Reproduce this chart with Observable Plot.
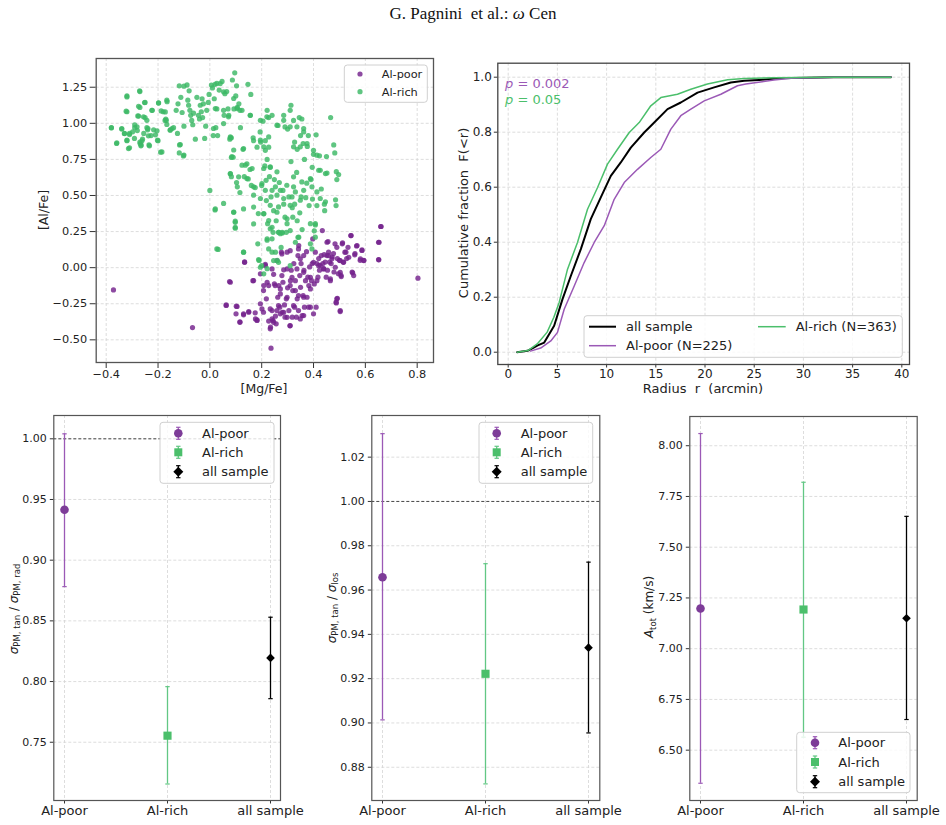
<!DOCTYPE html>
<html><head><meta charset="utf-8">
<script src="https://cdn.jsdelivr.net/npm/d3@7"></script>
<script src="https://cdn.jsdelivr.net/npm/@observablehq/plot@0.6"></script>
<style>
body{margin:0;background:#fff;}
#fig{position:relative;width:946px;height:825px;font-family:"DejaVu Sans",sans-serif;}
#fig svg{position:absolute;left:0;top:0;}
</style></head><body><div id="fig"></div>
<script>
// ---------- DATA ----------
// Panel 1: [Mg/Fe], [Al/Fe] pairs
const richPts = [
[-0.38,0.97],[-0.36,0.86],[-0.34,0.96],[-0.32,1.19],[-0.32,1.08],[-0.33,0.93],[-0.32,0.88],[-0.31,0.83],[-0.31,0.93],[-0.29,0.97],
[-0.29,0.99],[-0.28,0.95],[-0.275,1.05],[-0.27,1.22],[-0.27,1.11],[-0.27,0.87],[-0.265,0.85],[-0.26,0.89],[-0.255,0.93],[-0.25,1.145],
[-0.25,1.04],[-0.243,0.97],[-0.24,0.955],[-0.235,0.85],[-0.227,0.915],[-0.222,1.09],[-0.217,0.955],[-0.21,0.92],[-0.2,0.88],[-0.198,1.14],
[-0.19,0.80],[-0.18,1.08],[-0.173,1.02],[-0.17,1.03],[-0.165,1.15],[-0.153,0.955],[-0.14,0.97],[-0.13,1.09],[-0.123,1.135],[-0.125,0.93],
[-0.117,0.85],[-0.118,1.26],[-0.112,1.18],[-0.1,0.78],[-0.107,1.075],[-0.1,1.257],[-0.1,0.98],[-0.088,1.266],[-0.085,1.16],[-0.082,1.125],
[-0.08,1.225],[-0.077,1.09],[-0.074,1.055],[-0.07,1.02],[-0.066,0.99],[-0.063,1.07],[-0.056,0.89],[-0.05,1.18],[-0.044,1.055],[-0.04,1.03],
[-0.037,1.125],[-0.033,1.08],[-0.03,1.17],[-0.028,1.04],[-0.025,1.135],[-0.02,0.895],[-0.016,0.98],[-0.012,1.09],[-0.006,1.145],[-0.003,1.2],
[0.006,1.265],[0.01,1.245],[0.013,0.915],[0.017,1.17],[0.02,1.27],[0.023,0.97],[0.027,1.1],[0.03,0.915],[0.036,1.23],[0.04,1.275],
[0.047,1.29],[0.055,1.055],[0.058,1.205],[0.065,1.22],[0.07,1.1],[0.073,1.055],[0.077,0.89],[0.083,0.9],[0.087,1.3],[0.093,1.1],
[0.096,1.35],[0.1,1.19],[0.103,1.26],[0.106,1.11],[0.112,1.135],[0.116,1.09],[0.118,0.97],[0.124,1.09],[0.147,1.27],[0.158,1.2],[0.156,1.055],
[0.0,0.535],[0.02,0.40],[0.032,0.126],[0.053,0.445],[0.079,0.90],[0.083,0.763],[0.09,0.765],[0.092,0.815],[0.079,0.65],[0.083,0.63],
[0.092,0.385],[0.098,0.322],[0.098,0.28],[0.103,0.59],[0.106,0.56],[0.116,0.52],[0.124,0.71],[0.128,0.82],[0.13,0.107],[0.133,0.63],
[0.143,0.72],[0.148,0.615],[0.155,0.68],[0.16,0.57],[0.167,0.9],[0.169,0.88],[0.169,0.42],[0.175,0.555],[0.182,0.835],[0.185,0.165],
[0.187,0.375],[0.19,0.05],[0.194,0.94],[0.196,0.87],[0.2,0.57],[0.2,0.015],[0.205,1.015],[0.208,0.375],[0.212,0.705],[0.214,0.88],
[0.217,0.605],[0.218,0.465],[0.221,1.09],[0.221,0.75],[0.221,0.19],[0.221,-0.007],[0.223,0.305],[0.227,1.04],[0.227,0.835],[0.23,0.63],
[0.233,0.695],[0.236,0.49],[0.24,1.055],[0.24,0.28],[0.244,0.245],[0.246,0.395],[0.249,0.61],[0.253,0.56],[0.256,0.325],[0.26,0.05],
[0.263,0.985],[0.266,0.245],[0.268,0.59],[0.272,0.235],[0.275,0.14],[0.28,0.24],[0.282,0.535],[0.285,1.055],[0.285,0.44],[0.29,0.975],
[0.29,0.35],[0.295,0.245],[0.298,0.305],[0.3,0.96],[0.305,0.49],[0.31,1.09],[0.313,1.125],[0.313,0.735],[0.318,0.415],[0.32,0.35],
[0.323,1.02],[0.327,0.87],[0.327,0.44],[0.33,0.525],[0.335,0.66],[0.337,0.82],[0.337,0.325],[0.34,0.21],[0.345,1.04],[0.347,0.38],
[0.35,0.915],[0.352,0.49],[0.355,1.03],[0.36,0.86],[0.362,0.94],[0.365,0.75],[0.37,0.485],[0.374,0.585],[0.376,0.84],[0.38,0.915],
[0.383,0.43],[0.388,0.305],[0.39,0.61],[0.395,0.695],[0.396,0.475],[0.4,0.785],[0.403,0.255],[0.407,0.305],[0.41,0.92],[0.413,0.43],
[0.42,0.675],[0.423,0.775],[0.43,0.545],[0.442,0.44],[0.443,0.395],[0.45,0.77],[0.452,0.655],[0.466,1.04],[0.478,0.85],[0.482,0.795],
[0.485,0.47],[0.487,0.43],[0.488,0.665],[0.49,0.61],[0.497,0.645],
[0.079,0.906],[0.13,0.825],[0.085,0.77],[0.137,0.71],[0.163,0.687],[0.079,0.652],[0.111,0.629],[0.143,0.617],[0.169,0.56],[0.201,0.583],
[0.208,0.687],[0.233,0.698],[0.259,0.664],[0.214,0.536],[0.24,0.536],[0.272,0.536],[0.169,0.502],[0.195,0.479],[0.259,0.502],[0.285,0.479],
[0.317,0.49],[0.349,0.467],[0.233,0.432],[0.265,0.421],[0.31,0.432],[0.195,0.883],[0.208,0.837],[0.214,0.813],[0.227,0.906],[0.323,0.837],
[0.349,0.837],[0.375,0.86],[0.4,0.813],[0.413,0.779],[0.426,0.675],[0.446,0.652],[0.388,0.617],[0.394,0.56],[0.355,0.594],[0.323,0.629],
[0.297,0.571],[0.323,0.56],[0.362,0.536],[0.413,0.525],[0.426,0.479],[0.446,0.456],[0.31,0.976],[0.336,0.976],[0.362,0.964],[0.285,1.021],
[0.259,0.987],[0.22,1.045],[0.195,1.021],[0.156,1.056],[0.027,1.276],[0.053,1.218],[0.092,1.172],[0.105,1.102],[0.053,1.09],[0.021,1.102],
[0.014,0.964],[0.053,0.998],[0.072,1.045],
[-0.32,1.183],[-0.271,1.225],[-0.252,1.144],[-0.323,1.084],[-0.275,1.118],[-0.278,1.051],[-0.256,1.045],[-0.243,1.021],[-0.239,0.964],[-0.224,1.09],
[-0.198,1.142],[-0.188,1.086],[-0.172,1.079],[-0.166,1.16],[-0.168,1.021],[-0.166,0.992],[-0.146,0.964],[-0.153,0.952],[-0.185,0.802],[-0.114,0.853],
[-0.118,0.795],[-0.102,0.774],[-0.38,0.969],[-0.34,0.964],[-0.359,0.865],[-0.314,0.825],[-0.329,0.929],[-0.32,0.883],[-0.31,0.922],[-0.298,0.941],
[-0.291,0.895],[-0.281,0.976],[-0.269,0.86],[-0.266,0.844],[-0.262,0.879],[-0.237,0.913],[-0.233,0.844],[-0.204,0.948],[-0.202,0.883],
[0.021,0.407],[0.092,0.384],[0.13,0.407],[0.208,0.373],[0.259,0.384],[0.098,0.314],[0.098,0.273],[0.169,0.303],[0.227,0.326],[0.298,0.338],
[0.233,0.269],[0.265,0.245],[0.279,0.245],[0.31,0.257],[0.356,0.264],[0.407,0.296],[0.221,0.2],[0.24,0.2],[0.343,0.211],[0.33,0.176],
[0.388,0.165],[0.407,0.211],[0.027,0.13],[0.13,0.107],[0.188,0.056],[0.195,0.003],[0.208,-0.043],[0.227,0.13],[0.246,0.049],[0.265,0.037],
[0.24,0.107],[0.31,0.014],[0.253,0.107],[0.394,0.13]
];
const poorPts = [
[-0.372,-0.154],[-0.067,-0.415],[0.076,-0.096],[0.063,-0.262],[0.105,-0.269],[0.116,-0.375],[0.134,0.04],[0.13,-0.32],[0.15,-0.304],[0.166,-0.09],
[0.176,-0.355],[0.182,-0.362],[0.195,-0.25],[0.201,-0.286],[0.208,-0.124],[0.214,0.023],[0.218,-0.216],[0.221,-0.101],[0.227,-0.37],[0.234,-0.412],
[0.236,-0.558],[0.24,-0.297],[0.244,-0.366],[0.246,-0.046],[0.249,-0.112],[0.253,-0.336],[0.256,-0.389],[0.259,-0.297],[0.262,-0.205],[0.266,-0.124],
[0.27,-0.274],[0.272,-0.182],[0.276,0.107],[0.279,-0.309],[0.282,-0.101],[0.285,-0.015],[0.288,-0.258],[0.29,-0.343],[0.295,-0.216],[0.298,0.107],
[0.3,-0.14],[0.305,-0.297],[0.309,-0.403],[0.311,-0.09],[0.314,-0.018],[0.318,-0.343],[0.32,-0.159],[0.324,0.028],[0.327,-0.274],[0.33,-0.09],
[0.334,-0.343],[0.337,-0.216],[0.34,0.084],[0.343,0.153],[0.347,-0.055],[0.35,-0.136],[0.352,0.028],[0.356,-0.332],[0.36,-0.193],[0.363,-0.018],
[0.365,-0.274],[0.369,-0.09],[0.373,0.111],[0.375,-0.205],[0.378,-0.066],[0.382,-0.124],[0.385,0.005],[0.388,-0.274],[0.392,-0.09],[0.395,0.028],
[0.397,0.199],[0.4,-0.32],[0.403,-0.113],[0.407,0.107],[0.41,-0.274],[0.413,0.028],[0.417,-0.066],[0.42,0.063],[0.423,-0.018],[0.426,0.016],
[0.43,0.084],[0.434,0.257],[0.436,0.028],[0.439,-0.007],[0.441,0.09],[0.445,0.039],[0.449,-0.066],[0.452,0.176],[0.454,-0.018],[0.458,0.107],
[0.462,0.039],[0.465,-0.078],[0.468,0.028],[0.472,0.074],[0.477,0.097],[0.479,-0.03],[0.483,0.165],[0.487,-0.239],[0.49,-0.216],[0.492,0.063],
[0.496,-0.042],[0.5,0.051],[0.503,-0.297],[0.506,-0.053],[0.511,0.165],[0.515,0.039],[0.521,0.107],[0.528,0.063],[0.544,0.222],[0.549,-0.03],
[0.56,0.097],[0.566,0.15],[0.58,0.051],[0.587,0.119],[0.594,0.051],[0.653,0.176],[0.652,0.054],[0.659,0.285],[0.803,-0.073],
[0.063,-0.258],[0.102,-0.267],[0.101,-0.32],[0.13,-0.327],[0.116,-0.379],[0.15,-0.309],[0.175,-0.313],[0.182,-0.366],[0.207,-0.309],[0.233,-0.286],
[0.24,-0.355],[0.246,-0.379],[0.233,-0.424],[0.265,-0.263],[0.272,-0.32],[0.285,-0.309],[0.298,-0.344],[0.31,-0.401],[0.323,-0.263],[0.342,-0.297],
[0.349,-0.355],[0.362,-0.332],[0.381,-0.274],[0.207,-0.159],[0.227,-0.124],[0.252,-0.124],[0.272,-0.147],[0.298,-0.205],[0.31,-0.124],[0.33,-0.159],
[0.342,-0.193],[0.362,-0.205],[0.388,-0.147],[0.278,-0.055],[0.298,-0.009],[0.317,-0.067],[0.336,-0.009],[0.362,-0.032],[0.388,-0.067],[0.413,-0.09],
[0.4,0.037],[0.42,0.014],[0.439,-0.009],[0.452,0.084],[0.349,0.061],[0.342,0.13],[0.362,0.084],[0.31,0.118],[0.278,0.095],[0.259,0.049],
[0.24,-0.009],[0.214,0.014],[0.195,-0.043],[0.169,-0.09],[0.134,0.037],[0.079,-0.101],
[0.661,0.285],[0.545,0.222],[0.651,0.176],[0.568,0.153],[0.587,0.123],[0.512,0.172],[0.49,0.141],[0.533,0.141],[0.525,0.107],[0.559,0.089],
[0.536,0.072],[0.581,0.061],[0.594,0.049],[0.651,0.056],[0.456,0.181],[0.458,0.084],[0.471,0.061],[0.503,0.049],[0.516,0.037],[0.484,0.003],
[0.503,-0.032],[0.551,-0.036],[0.555,-0.055],[0.507,-0.062],[0.465,-0.09],[0.492,-0.212],[0.488,-0.244],[0.503,-0.304]
];
const scatterXTicks = [-0.4,-0.2,0.0,0.2,0.4,0.6,0.8];
const scatterYTicks = [-0.5,-0.25,0,0.25,0.5,0.75,1.0,1.25];

// Panel 2: cumulative radial distributions (radius arcmin, fraction)
const allR  = [0.91,1.96,2.5,3.0,3.66,4.67,5.52,6.37,7.38,8.39,9.41,10.43,11.44,12.46,13.82,14.84,16.19,17.54,19.24,20.93,22.62,23.98,25.5,27.0,27.5,33.1,38.9];
const allF  = [0,0.005,0.015,0.025,0.035,0.096,0.193,0.278,0.375,0.484,0.563,0.641,0.69,0.744,0.799,0.835,0.884,0.908,0.944,0.963,0.981,0.987,0.99,0.994,0.996,1.0,1.0];
const richR = [0.91,2.0,2.95,3.96,4.64,5.18,6.03,7.04,8.06,9.08,10.09,11.11,12.3,13.31,14.49,15.51,17.2,18.56,20.25,22.29,23.98,27.0,33.1,38.9];
const richF = [0,0.006,0.03,0.073,0.127,0.181,0.302,0.399,0.52,0.599,0.684,0.738,0.799,0.835,0.896,0.926,0.938,0.956,0.975,0.991,0.995,0.998,1.0,1.0];
const poorR = [2.27,3.3,4.33,5.01,5.69,6.71,7.72,8.74,9.76,10.77,11.79,13.14,14.49,15.51,16.53,17.54,18.56,19.92,21.61,23.3,24.15,27.0,28.7,33.1,38.9];
const poorF = [0.004,0.015,0.041,0.072,0.156,0.241,0.326,0.399,0.46,0.556,0.617,0.665,0.708,0.738,0.811,0.86,0.884,0.914,0.938,0.969,0.975,0.99,0.996,1.0,1.0];
const cdfXTicks = [0,5,10,15,20,25,30,35,40];
const cdfYTicks = [0,0.2,0.4,0.6,0.8,1.0];

// Panels 3-5: error-bar summaries
const groups = ["Al-poor","Al-rich","all sample"];
const radVal = [0.9415,0.7554,0.8195], radLo = [0.8782,0.7156,0.7859], radHi = [1.0041,0.7958,0.853];
const losVal = [0.9658,0.9222,0.934],  losLo = [0.9014,0.8725,0.8955], losHi = [1.0306,0.9719,0.9726];
const atotVal = [7.198,7.193,7.15],    atotLo = [6.337,6.564,6.651],   atotHi = [8.06,7.82,7.652];
const radTicks = [0.75,0.80,0.85,0.90,0.95,1.00];
const losTicks = [0.88,0.90,0.92,0.94,0.96,0.98,1.00,1.02];
const atotTicks = [6.50,6.75,7.00,7.25,7.50,7.75,8.00];

// ---------- STYLE ----------
const W = 946, H = 825;
const PURPLE = "#74228c", GREEN = "#3cb865";
const P_MARK = "#7d3c98", G_MARK = "#4bbf6b";
const P_LINE = "#9b59b6", G_LINE = "#62c784";
const NB = "\u00a0";
const fig = document.getElementById("fig");
const fmt2 = d3.format(".2f"), fmt1 = d3.format(".1f");
const gridStyle = {stroke:"#d4d4d4", strokeOpacity:1, strokeWidth:0.8, strokeDasharray:"3,2"};

function frameOpts(L,R,T,B){
  return {width:W,height:H,marginLeft:L,marginRight:W-R,marginTop:T,marginBottom:H-B,
    style:{background:"transparent",overflow:"visible",fontFamily:"DejaVu Sans",color:"#222"}};
}

// Panel 1
const rich = richPts.map(([mg,al])=>({mg,al}));
const poor = poorPts.map(([mg,al])=>({mg,al}));
fig.append(Plot.plot({
  ...frameOpts(95.7,433,58,362),
  x:{domain:[-0.4386,0.863]}, y:{domain:[-0.657,1.449]},
  marks:[
    Plot.gridX(scatterXTicks, gridStyle), Plot.gridY(scatterYTicks, gridStyle),
    Plot.dot(poor,{x:"mg",y:"al",r:2.6,fill:PURPLE,fillOpacity:0.82,stroke:null}),
    Plot.dot(rich,{x:"mg",y:"al",r:2.6,fill:GREEN,fillOpacity:0.82,stroke:null}),
    Plot.axisX({ticks:scatterXTicks,tickFormat:d3.format(".1f"),tickSize:6,tickPadding:1,fontSize:11.3,label:null,stroke:"#333"}),
    Plot.axisY({ticks:scatterYTicks,tickFormat:fmt2,tickSize:6,tickPadding:3,fontSize:11.3,label:null,stroke:"#333"}),
    Plot.frame({stroke:"#555",strokeWidth:1.3})
  ]
}));

// Panel 2
const toRows = (R,F)=>R.map((r,i)=>({r,f:F[i]}));
fig.append(Plot.plot({
  ...frameOpts(497.3,909,62.7,364),
  x:{domain:[-1.057,40.78]}, y:{domain:[-0.0447,1.0509]},
  marks:[
    Plot.gridX(cdfXTicks, gridStyle), Plot.gridY(cdfYTicks, gridStyle),
    Plot.line(toRows(allR,allF),{x:"r",y:"f",stroke:"#000",strokeWidth:2}),
    Plot.line(toRows(poorR,poorF),{x:"r",y:"f",stroke:"#9b59b6",strokeWidth:1.5}),
    Plot.line(toRows(richR,richF),{x:"r",y:"f",stroke:"#4bbf6b",strokeWidth:1.5}),
    Plot.axisX({ticks:cdfXTicks,tickSize:3.5,tickPadding:1.5,fontSize:12,label:null,stroke:"#333"}),
    Plot.axisY({ticks:cdfYTicks,tickFormat:fmt1,tickSize:3.5,tickPadding:2.5,fontSize:12,label:null,stroke:"#333"}),
    Plot.frame({stroke:"#444",strokeWidth:1.3})
  ]
}));

// Panels 3-5
const capSym = {draw(ctx,size){const r=Math.sqrt(size/Math.PI);ctx.moveTo(-r,0);ctx.lineTo(r,0);}};
const lineCol = {"Al-poor":P_LINE,"Al-rich":G_LINE,"all sample":"#000"};
function errPanel(L,R,T,B,val,lo,hi,ydom,ticks,ref){
  const rows = groups.map((g,i)=>({g,v:val[i],lo:lo[i],hi:hi[i]}));
  const marks = [
    Plot.gridX(groups, gridStyle), Plot.gridY(ticks, gridStyle)
  ];
  if (ref!=null) marks.push(Plot.ruleY([ref],{stroke:"#222",strokeWidth:0.8,strokeDasharray:"3,2"}));
  for (const g of groups) {
    const f = d=>d.g===g;
    marks.push(
      Plot.ruleX(rows,{filter:f,x:"g",y1:"lo",y2:"hi",stroke:lineCol[g],strokeWidth:1.3}),
      Plot.dot(rows,{filter:f,x:"g",y:"lo",symbol:capSym,r:2.2,fill:"none",stroke:lineCol[g],strokeWidth:1.2}),
      Plot.dot(rows,{filter:f,x:"g",y:"hi",symbol:capSym,r:2.2,fill:"none",stroke:lineCol[g],strokeWidth:1.2})
    );
  }
  marks.push(
    Plot.dot(rows,{filter:d=>d.g==="Al-poor",x:"g",y:"v",r:4.3,fill:P_MARK,stroke:null}),
    Plot.dot(rows,{filter:d=>d.g==="Al-rich",x:"g",y:"v",symbol:"square",r:4.6,fill:G_MARK,stroke:null}),
    Plot.dot(rows,{filter:d=>d.g==="all sample",x:"g",y:"v",symbol:"diamond2",r:3.9,fill:"#000",stroke:null}),
    Plot.axisX({tickSize:3.5,tickPadding:2,fontSize:13,label:null,stroke:"#333"}),
    Plot.axisY({ticks,tickFormat:fmt2,tickSize:3.5,tickPadding:3.5,fontSize:11,label:null,stroke:"#333"}),
    Plot.frame({stroke:"#555",strokeWidth:1.2})
  );
  fig.append(Plot.plot({
    ...frameOpts(L,R,T,B),
    x:{type:"point",domain:groups,padding:0.1}, y:{domain:ydom},
    marks
  }));
}
errPanel(53.3,280,415,800,radVal,radLo,radHi,[0.702,1.0192],radTicks,1);
errPanel(371.3,599.3,415,800,losVal,losLo,losHi,[0.865,1.0388],losTicks,1);
errPanel(689.3,916.7,416,800,atotVal,atotLo,atotHi,[6.252,8.144],atotTicks,null);

// ---------- TEXT OVERLAY: title, axis labels, legends ----------
const ov = d3.select(fig).append("svg").attr("width",W).attr("height",H)
  .style("font-family","DejaVu Sans");

const title = ov.append("text").attr("x",473).attr("y",19).attr("text-anchor","middle")
  .style("font-family","Liberation Serif").style("font-size","17px").attr("fill","#111");
title.append("tspan").text("G. Pagnini"+NB+NB+"et al.: ");
title.append("tspan").style("font-style","italic").text("ω");
title.append("tspan").text(" Cen");

function hlabel(x,y,txt,size){ ov.append("text").attr("x",x).attr("y",y).attr("text-anchor","middle")
  .style("font-size",size+"px").attr("fill","#222").text(txt); }
function vlabel(x,y,size){ return ov.append("text").attr("transform",`translate(${x},${y}) rotate(-90)`)
  .attr("text-anchor","middle").attr("dy","0.35em").style("font-size",size+"px").attr("fill","#222"); }

hlabel(264,393,"[Mg/Fe]",12.5);
vlabel(43.3,210,12.5).text("[Al/Fe]");
hlabel(703,393,"Radius"+NB+NB+"r"+NB+NB+"(arcmin)",13);
vlabel(463,213,13).text("Cumulative fraction"+NB+NB+"F(<r)");

function sigmaLabel(x,y,sub2){
  const t = vlabel(x,y,12);
  t.append("tspan").style("font-style","italic").text("σ");
  t.append("tspan").attr("dy",2.5).style("font-size","8.5px").text("PM, tan");
  t.append("tspan").attr("dy",-2.5).text(" / ");
  t.append("tspan").style("font-style","italic").text("σ");
  t.append("tspan").attr("dy",2.5).style("font-size","8.5px").text(sub2);
}
sigmaLabel(13.3,609,"PM, rad");
sigmaLabel(331.7,608,"los");
{
  const t = vlabel(649,607,12);
  t.append("tspan").style("font-style","italic").text("A");
  t.append("tspan").attr("dy",2.5).style("font-size","8.5px").text("tot");
  t.append("tspan").attr("dy",-2.5).text(" (km/s)");
}

// p-values
function pval(x,y,col,val){
  const t = ov.append("text").attr("x",x).attr("y",y).attr("dy","0.35em").style("font-size","13px").attr("fill",col);
  t.append("tspan").style("font-style","italic").text("p");
  t.append("tspan").text(" = "+val);
}
pval(505,83.5,"#9b59b6","0.002");
pval(505,99,"#4bbf6b","0.05");

function box(x0,y0,x1,y1){ ov.append("rect").attr("x",x0).attr("y",y0).attr("width",x1-x0).attr("height",y1-y0)
  .attr("rx",3).attr("fill","#fff").attr("fill-opacity",0.82).attr("stroke","#d0d0d0").attr("stroke-width",1); }
function ltext(x,y,txt,size){ ov.append("text").attr("x",x).attr("y",y).attr("dy","0.35em")
  .style("font-size",size+"px").attr("fill","#222").text(txt); }

// scatter legend
box(344.3,65,427.3,102.3);
ov.append("circle").attr("cx",360).attr("cy",74).attr("r",2.6).attr("fill",PURPLE).attr("fill-opacity",0.82);
ov.append("circle").attr("cx",360).attr("cy",91.7).attr("r",2.6).attr("fill",GREEN).attr("fill-opacity",0.82);
ltext(381.7,74,"Al-poor",11.3); ltext(381.7,91.7,"Al-rich",11.3);

// CDF legend
box(584,315.7,902.3,357.3);
ov.append("line").attr("x1",589).attr("x2",616).attr("y1",326.7).attr("y2",326.7).attr("stroke","#000").attr("stroke-width",2);
ov.append("line").attr("x1",589).attr("x2",616).attr("y1",345.7).attr("y2",345.7).attr("stroke","#9b59b6").attr("stroke-width",1.5);
ov.append("line").attr("x1",758).attr("x2",785.7).attr("y1",326.7).attr("y2",326.7).attr("stroke","#4bbf6b").attr("stroke-width",1.5);
ltext(626,326.7,"all sample",13); ltext(626,345.7,"Al-poor (N=225)",13); ltext(795.7,326.7,"Al-rich (N=363)",13);

// error-bar legends
function errIcon(x,y,kind){
  const lc = kind==="c"?P_LINE:kind==="s"?G_LINE:"#000";
  const mc = kind==="c"?P_MARK:kind==="s"?G_MARK:"#000";
  ov.append("line").attr("x1",x).attr("x2",x).attr("y1",y-6).attr("y2",y+6).attr("stroke",lc).attr("stroke-width",1.3);
  for (const yy of [y-6,y+6]) ov.append("line").attr("x1",x-2.2).attr("x2",x+2.2).attr("y1",yy).attr("y2",yy).attr("stroke",lc).attr("stroke-width",1.2);
  if (kind==="c") ov.append("circle").attr("cx",x).attr("cy",y).attr("r",4.3).attr("fill",mc);
  else if (kind==="s") ov.append("rect").attr("x",x-4).attr("y",y-4).attr("width",8).attr("height",8).attr("fill",mc);
  else ov.append("path").attr("d",`M${x},${y-5}L${x+5},${y}L${x},${y+5}L${x-5},${y}Z`).attr("fill",mc);
}
function errLegend(x0,y0,x1,y1,mx,tx,rows){
  box(x0,y0,x1,y1);
  const kinds=["c","s","d"];
  rows.forEach((yy,i)=>{ errIcon(mx,yy,kinds[i]); ltext(tx,yy,groups[i],13); });
}
errLegend(160,422.3,274,483.3,178.3,202,[433.3,452.3,471.7]);
errLegend(479,422.3,592.7,483.3,496.7,520.7,[433.3,452.3,471.7]);
errLegend(796.7,732.3,910,792.7,815,838.3,[742.7,762,781.7]);
</script></body></html>
